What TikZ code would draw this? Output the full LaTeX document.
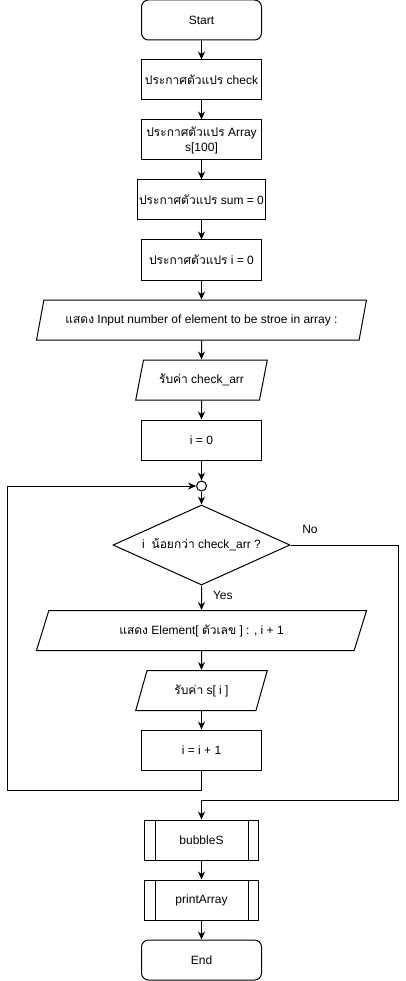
\documentclass[tikz,border=0pt]{standalone}
\usepackage{fontspec}
\setmainfont{Liberation Sans}
\newfontfamily\thaifont[Script=Thai]{Loma}
\usetikzlibrary{shapes.geometric,arrows.meta}
\newcommand{\tht}[1]{{\thaifont #1}}
\begin{document}
\begin{tikzpicture}[x=1pt,y=-1pt,
  font=\fontsize{12}{15}\selectfont,
  line width=1pt,
  base/.style={draw=black, line width=1pt, inner sep=2pt, align=center},
  procbox/.style={base, rectangle, minimum width=120pt, minimum height=40pt},
  termbox/.style={base, rectangle, rounded corners=7pt, minimum width=120pt, minimum height=40pt},
  iobig/.style={base, trapezium, trapezium stretches=true, trapezium left angle=67, trapezium right angle=113, minimum width=331pt, minimum height=40pt},
  iosmall/.style={base, trapezium, trapezium stretches=true, trapezium left angle=69.5, trapezium right angle=110.5, minimum width=132pt, minimum height=40pt},
  decbox/.style={base, diamond, aspect=2.2, inner sep=0pt, minimum width=177pt, minimum height=80pt},
  subbox/.style={base, rectangle, minimum width=114pt, minimum height=40pt},
  joint/.style={draw=black, line width=1pt, circle, inner sep=0pt, minimum size=10pt},
  flow/.style={-{Stealth[length=8pt,width=7pt]}},
  lbl/.style={font=\fontsize{12}{14}\selectfont, inner sep=0pt}
]
\useasboundingbox (0,0) rectangle (406,981);
\fill[white] (0,0) rectangle (406,981);

\node[termbox] (start) at (201.5,20) {Start};
\node[procbox] (b1) at (201.5,80) {\tht{ประกาศตัวแปร} check};
\node[procbox] (b2) at (201.5,140) {\tht{ประกาศตัวแปร} Array\\s[100]};
\node[procbox, minimum width=124pt] (b3) at (201.5,200) {\tht{ประกาศตัวแปร} sum = 0};
\node[procbox] (b4) at (201.5,260) {\tht{ประกาศตัวแปร} i = 0};
\node[iobig] (p1) at (201.5,320) {\tht{แสดง} Input number of element to be stroe in array :};
\node[iosmall] (p2) at (201.5,380) {\tht{รับค่า} check\_arr};
\node[procbox] (b5) at (201.5,440) {i = 0};
\node[joint] (jn) at (201.5,486) {};
\node[decbox] (dec) at (201.5,545) {i\ \ \tht{น้อยกว่า} check\_arr ?};
\node[iobig] (p3) at (201.5,630.5) {\tht{แสดง} Element[ \tht{ตัวเลข} ] : , i + 1};
\node[iosmall] (p4) at (201.5,690.5) {\tht{รับค่า} s[ i ]};
\node[procbox] (b6) at (201.5,750) {i = i + 1};
\node[subbox] (bs) at (201.5,840) {bubbleS};
\node[subbox] (pa) at (201.5,900) {printArray};
\node[termbox] (fin) at (201.5,960) {End};

\foreach \n in {bs,pa}{
  \draw ([xshift=11pt]\n.north west) -- ([xshift=11pt]\n.south west);
  \draw ([xshift=-11pt]\n.north east) -- ([xshift=-11pt]\n.south east);
}

\coordinate (lb) at (7,790);
\coordinate (nr) at (398,800);

\draw[flow] (start) -- (b1);
\draw[flow] (b1) -- (b2);
\draw[flow] (b2) -- (b3);
\draw[flow] (b3) -- (b4);
\draw[flow] (b4) -- (p1);
\draw[flow] (p1) -- (p2);
\draw[flow] (p2) -- (b5);
\draw[flow] (b5) -- (jn);
\draw[flow] (jn) -- (dec);
\draw[flow] (dec) -- node[lbl, right, pos=0.4, xshift=11pt] (yes) {Yes} (p3);
\draw[flow] (p3) -- (p4);
\draw[flow] (p4) -- (b6);
\draw[flow] (b6.south) |- (lb) |- (jn.west);
\draw[flow] (dec.east) -| (nr) -| (bs.north);
\draw[flow] (bs) -- (pa);
\draw[flow] (pa) -- (fin);
\node[lbl] (no) at (310,529) {No};
\end{tikzpicture}
\end{document}
